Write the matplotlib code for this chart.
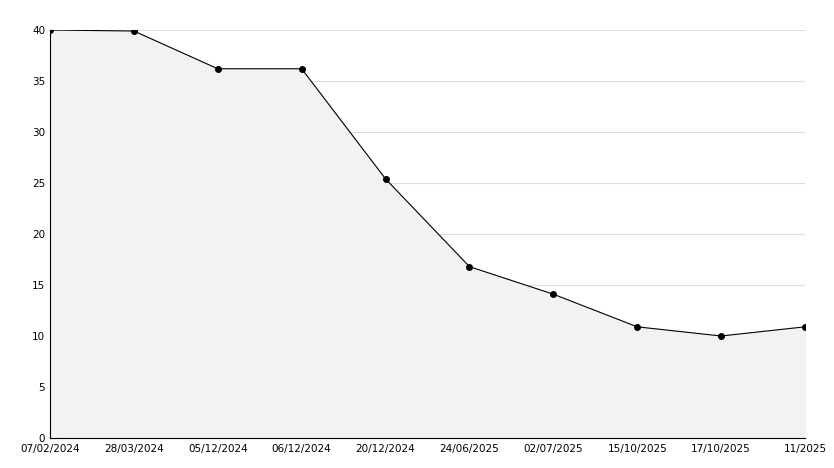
import matplotlib.pyplot as plt
from matplotlib.ticker import MultipleLocator

dates = ["07/02/2024", "28/03/2024", "05/12/2024", "06/12/2024", "20/12/2024",
         "24/06/2025", "02/07/2025", "15/10/2025", "17/10/2025", "11/2025"]
values = [40, 39.9, 36.2, 36.2, 25.4, 16.8, 14.1, 10.9, 10.0, 10.9]

fig = plt.figure(figsize=(8.34, 4.68), dpi=100)
ax = fig.add_axes([50/834, 30/468, 755/834, 408/468])
x = range(len(values))

ax.fill_between(x, values, 0, color="#f2f2f2", zorder=1)
ax.plot(x, values, color="black", linewidth=0.8, marker="o", markersize=4, zorder=3)

ax.set_xlim(0, len(values) - 1)
ax.set_ylim(0, 40)
ax.set_xticks(list(x))
ax.set_xticklabels(dates, fontsize=7.5)
ax.yaxis.set_major_locator(MultipleLocator(5))
ax.yaxis.set_minor_locator(MultipleLocator(1))
ax.tick_params(axis="y", labelsize=7.5, direction="in", length=5)
ax.tick_params(axis="y", which="minor", direction="in", length=3)
ax.tick_params(axis="x", direction="in", length=5, pad=4)
ax.grid(axis="y", color="#dddddd", linewidth=0.8, zorder=0)
ax.set_axisbelow(True)

for side in ["top", "right"]:
    ax.spines[side].set_visible(False)

fig.savefig("out.png", dpi=100)
